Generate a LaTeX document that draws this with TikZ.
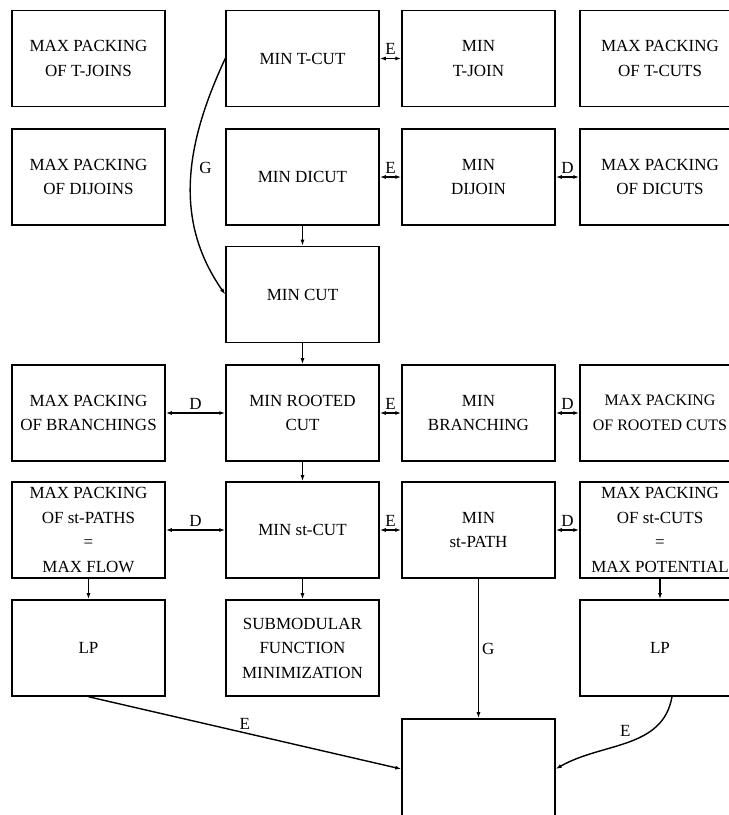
\documentclass[tikz,border=0pt]{standalone}
\usepackage{fontspec}
\setmainfont{Liberation Serif}
\usetikzlibrary{arrows.meta,positioning}

\begin{document}
\begin{tikzpicture}[x=1pt, y=1pt,
  prob/.style={rectangle, draw, line width=1.5pt, minimum width=153pt, minimum height=96pt, align=center, inner sep=0pt, font=\fontsize{17}{24.5}\selectfont},
  edge/.style={draw, line width=1.4pt},
  lbl/.style={font=\fontsize{17}{20}\selectfont, inner sep=3pt},
  >={Latex[length=6pt,width=4pt]}
]
\useasboundingbox (0,0) rectangle (729,815);
\clip (0,0) rectangle (729,815);

% problems
\node[prob] (tjoinpack) at (88.5,756.5) {MAX PACKING\\OF T-JOINS};
\node[prob] (tcut)      at (302.5,756.5) {MIN T-CUT};
\node[prob] (tjoin)     at (478.5,756.5) {MIN\\T-JOIN};
\node[prob, minimum width=160pt] (tcutpack) at (660,756.5) {MAX PACKING\\OF T-CUTS};

\node[prob] (dijoinpack) at (88.5,638) {MAX PACKING\\OF DIJOINS};
\node[prob] (dicut)      at (302.5,638) {MIN DICUT};
\node[prob] (dijoin)     at (478.5,638) {MIN\\DIJOIN};
\node[prob, minimum width=160pt] (dicutpack) at (660,638) {MAX PACKING\\OF DICUTS};

\node[prob] (mincut) at (302.5,520.5) {MIN CUT};

\node[prob] (branchpack) at (88.5,402) {MAX PACKING\\OF BRANCHINGS};
\node[prob] (rooted)     at (302.5,402) {MIN ROOTED\\CUT};
\node[prob] (branching)  at (478.5,402) {MIN\\BRANCHING};
\node[prob, minimum width=160pt, font=\fontsize{16}{24.5}\selectfont] (rootpack) at (660,402) {MAX PACKING\\OF ROOTED CUTS};

\node[prob] (flowpack) at (88.5,285) {MAX PACKING\\OF st-PATHS\\=\\MAX FLOW};
\node[prob] (stcut)    at (302.5,285) {MIN st-CUT};
\node[prob] (stpath)   at (478.5,285) {MIN\\st-PATH};
\node[prob, minimum width=160pt] (potpack) at (660,285) {MAX PACKING\\OF st-CUTS\\=\\MAX POTENTIAL};

\node[prob] (lpa)    at (88.5,167) {LP};
\node[prob] (submod) at (302.5,167) {SUBMODULAR\\FUNCTION\\MINIMIZATION};
\node[prob, minimum width=160pt] (lpb) at (660,167) {LP};

\node[prob, minimum height=100pt] (target) at (478.5,46) {};

% reductions
\draw[edge, <->] (tcut) -- node[lbl, above] {E} (tjoin);
\draw[edge, <->] (dicut) -- node[lbl, above] {E} (dijoin);
\draw[edge, <->] (dijoin) -- node[lbl, above] {D} (dicutpack);
\draw[edge, ->] (dicut) -- (mincut);
\draw[edge, ->] (tcut.west) to[out=245, in=125] node[lbl, pos=0.45, right=4pt] {G} (mincut.west);
\draw[edge, ->] (mincut) -- (rooted);
\draw[edge, <->] (branchpack) -- node[lbl, above] {D} (rooted);
\draw[edge, <->] (rooted) -- node[lbl, above] {E} (branching);
\draw[edge, <->] (branching) -- node[lbl, above] {D} (rootpack);
\draw[edge, ->] (rooted) -- (stcut);
\draw[edge, <->] (flowpack) -- node[lbl, above] {D} (stcut);
\draw[edge, <->] (stcut) -- node[lbl, above] {E} (stpath);
\draw[edge, <->] (stpath) -- node[lbl, above] {D} (potpack);
\draw[edge, ->] (stcut) -- (submod);
\draw[edge, ->] (flowpack) -- (lpa);
\draw[edge, ->] (potpack) -- (lpb);
\draw[edge, ->] (stpath) -- node[lbl, right] {G} (target);
\draw[edge, ->] (lpa.south) -- node[lbl, above] {E} (target.west);
\draw[edge, ->] ([xshift=12pt]lpb.south) to[out=260, in=30] node[lbl, pos=0.45, above left] {E} (target.east);
\end{tikzpicture}
\end{document}
